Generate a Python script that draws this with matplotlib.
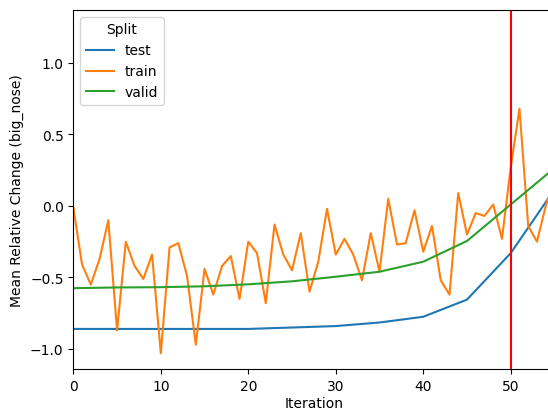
import matplotlib
matplotlib.use("Agg")
import matplotlib.pyplot as plt

# per-iteration train values
train_iter = list(range(0, 56))
train_vals = [-0.01, -0.41, -0.55, -0.37, -0.10, -0.87, -0.25, -0.42, -0.51, -0.34,
              -1.03, -0.29, -0.26, -0.49, -0.97, -0.44, -0.62, -0.42, -0.35, -0.65,
              -0.25, -0.33, -0.68, -0.13, -0.34, -0.45, -0.19, -0.60, -0.39, -0.02,
              -0.34, -0.23, -0.34, -0.52, -0.19, -0.46, 0.05, -0.27, -0.26, -0.03,
              -0.32, -0.14, -0.52, -0.62, 0.09, -0.20, -0.05, -0.07, 0.01, -0.23,
              0.27, 0.68, -0.14, -0.25, 0.0, 0.18]

# test / valid are evaluated every 5 iterations
eval_iter = [0, 5, 10, 15, 20, 25, 30, 35, 40, 45, 50, 55]
test_vals = [-0.86, -0.86, -0.86, -0.86, -0.86, -0.85, -0.84, -0.815, -0.775, -0.655, -0.33, 0.115]
valid_vals = [-0.575, -0.57, -0.568, -0.562, -0.548, -0.527, -0.495, -0.46, -0.39, -0.245, 0.01, 0.265]

marker_iter = 50

fig = plt.figure(figsize=(5.48, 4.10), dpi=100)
# axes runs a little past the right edge, as in the original crop
ax = fig.add_axes([0.1338, 0.0976, 0.878, 0.8756])

ax.plot(eval_iter, test_vals, color="tab:blue", label="test")
ax.plot(train_iter, train_vals, color="tab:orange", label="train")
ax.plot(eval_iter, valid_vals, color="tab:green", label="valid")
ax.axvline(marker_iter, color="red", linewidth=1.5)

ax.set_xlim(0, 55)
ax.set_ylim(-1.14, 1.37)
ax.set_xticks([0, 10, 20, 30, 40, 50])
ax.set_yticks([-1.0, -0.5, 0.0, 0.5, 1.0])
ax.set_xlabel("Iteration", labelpad=2.5)
ax.set_ylabel("Mean Relative Change (big_nose)")
ax.legend(title="Split", loc="upper left")

fig.savefig("out.png", dpi=100)
